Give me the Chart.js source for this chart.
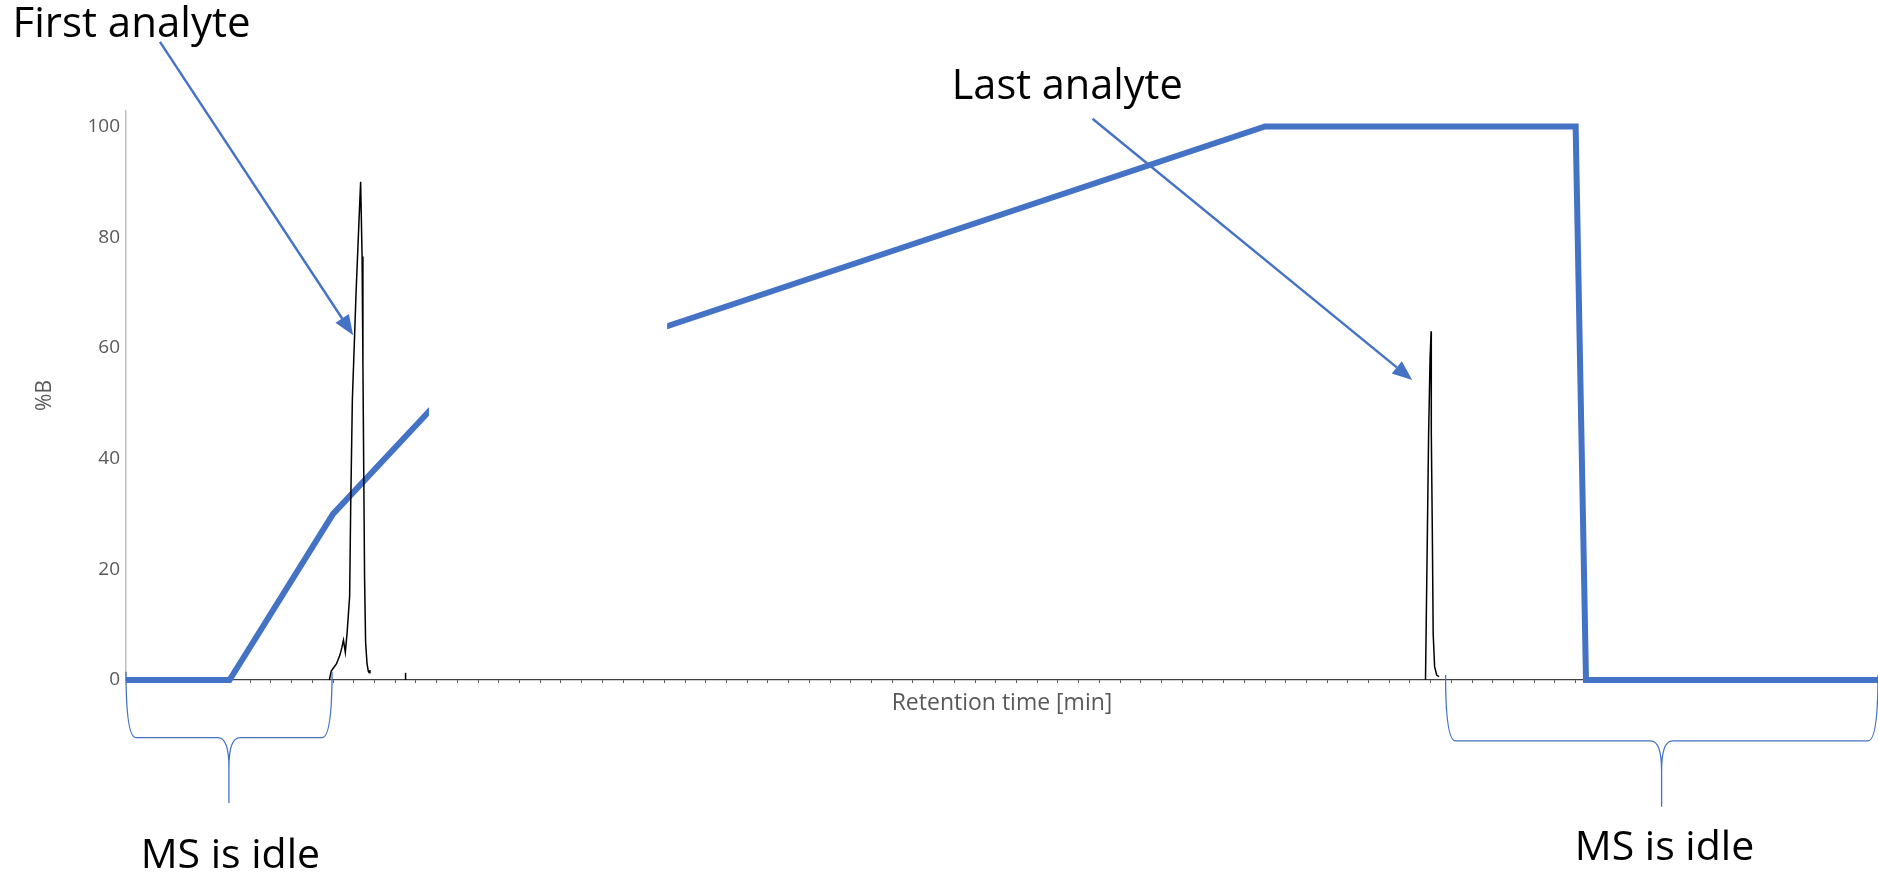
<!DOCTYPE html>
<html>
<head>
<meta charset="utf-8">
<script src="https://cdn.jsdelivr.net/npm/chart.js@4.4.1/dist/chart.umd.min.js"></script>
<style>
  body { margin: 0; background: #fff; }
  #wrap { width: 1878px; height: 873px; position: relative; }
</style>
</head>
<body>
<div id="wrap"><canvas id="chart"></canvas></div>
<script>
// LC gradient program, %B vs. time in minutes
var gradientTime = [0, 5, 10, 15, 55, 70, 70.5, 84.6];
var gradientB = [0, 0, 30, 50, 100, 100, 0, 0];

// detector trace around the first eluting compound
var peak1Time = [9.82, 9.91, 10.16, 10.33, 10.42, 10.5, 10.59, 10.68, 10.8, 10.85, 10.93, 11.11, 11.25, 11.33, 11.4, 11.44, 11.48, 11.52, 11.57, 11.64, 11.7, 11.75, 11.78];
var peak1Signal = [0, 1.6, 2.9, 4.5, 5.8, 7.2, 5.0, 8.7, 15.2, 31.3, 50.6, 70, 82.9, 90, 76.5, 57.1, 37.7, 18.4, 6.8, 2.9, 1.6, 1.3, 1.8];

// little blip right after it
var blipTime = [13.5, 13.5];
var blipSignal = [0, 1.3];

// last eluting compound
var peak2Time = [62.75, 62.84, 62.9, 62.97, 63.02, 63.03, 63.08, 63.12, 63.19, 63.29, 63.4];
var peak2Signal = [0, 26.5, 44.5, 58, 63, 44.6, 26.5, 8.4, 2.4, 0.9, 0.6];

var yTicks = [0, 20, 40, 60, 80, 100];

// callouts drawn on top of the plot (data units)
var arrows = [
  { from: [1.64, 115.3], to: [10.97, 62.3] },
  { from: [46.67, 101.4], to: [62.11, 54.2] }
];
var braces = [
  { x0: 0, x1: 9.95, tip: 4.97, top: 1.5, mid: -10.4, end: -22.2 },
  { x0: 63.72, x1: 84.6, tip: 74.15, top: 0.9, mid: -11.0, end: -22.9 }
];
var notes = [
  { text: 'First analyte', x: -5.48, y: 116.2, align: 'left', size: 42 },
  { text: 'Last analyte', x: 39.87, y: 104.95, align: 'left', size: 41.5 },
  { text: 'MS is idle', x: 5.04, y: -34.0, align: 'center', size: 41 },
  { text: 'MS is idle', x: 74.29, y: -32.5, align: 'center', size: 41 }
];
// part of the gradient line that is blanked out
var hidden = { from: 14.63, to: 26.13, low: 44, high: 68 };

var BLUE = '#4472C4';

function pairs(xs, ys) {
  var out = [];
  for (var i = 0; i < xs.length; i++) out.push({ x: xs[i], y: ys[i] });
  return out;
}

function trace(xs, ys) {
  return {
    data: pairs(xs, ys),
    borderColor: '#000',
    borderWidth: 1.5,
    pointRadius: 0,
    tension: 0,
    clip: false
  };
}

function drawArrow(ctx, x1, y1, x2, y2) {
  var ang = Math.atan2(y2 - y1, x2 - x1), len = 20, half = 8;
  var bx = x2 - len * Math.cos(ang), by = y2 - len * Math.sin(ang);
  ctx.beginPath();
  ctx.moveTo(x1, y1);
  ctx.lineTo(bx, by);
  ctx.stroke();
  ctx.beginPath();
  ctx.moveTo(x2, y2);
  ctx.lineTo(bx + half * Math.sin(ang), by - half * Math.cos(ang));
  ctx.lineTo(bx - half * Math.sin(ang), by + half * Math.cos(ang));
  ctx.closePath();
  ctx.fill();
}

function drawBrace(ctx, xs, ys, b) {
  var L = xs.getPixelForValue(b.x0), R = xs.getPixelForValue(b.x1), T = xs.getPixelForValue(b.tip);
  var yTop = ys.getPixelForValue(b.top), yMid = ys.getPixelForValue(b.mid), yEnd = ys.getPixelForValue(b.end);
  var r = 10, r2 = 11, h2 = 30;
  ctx.beginPath();
  ctx.moveTo(L, yTop);
  ctx.quadraticCurveTo(L, yMid, L + r, yMid);
  ctx.lineTo(T - r2, yMid);
  ctx.quadraticCurveTo(T, yMid, T, yMid + h2);
  ctx.lineTo(T, yEnd);
  ctx.moveTo(R, yTop);
  ctx.quadraticCurveTo(R, yMid, R - r, yMid);
  ctx.lineTo(T + r2, yMid);
  ctx.quadraticCurveTo(T, yMid, T, yMid + h2);
  ctx.stroke();
}

var callouts = {
  id: 'callouts',
  afterDraw: function(chart) {
    var ctx = chart.ctx, xs = chart.scales.x, ys = chart.scales.y;
    ctx.save();

    // white box over the middle of the ramp
    var hx = xs.getPixelForValue(hidden.from), hx2 = xs.getPixelForValue(hidden.to);
    var hy = ys.getPixelForValue(hidden.high), hy2 = ys.getPixelForValue(hidden.low);
    ctx.fillStyle = '#fff';
    ctx.fillRect(hx, hy, hx2 - hx, hy2 - hy);

    ctx.strokeStyle = BLUE;
    ctx.fillStyle = BLUE;
    ctx.lineWidth = 2.4;
    arrows.forEach(function(a) {
      drawArrow(ctx, xs.getPixelForValue(a.from[0]), ys.getPixelForValue(a.from[1]),
        xs.getPixelForValue(a.to[0]), ys.getPixelForValue(a.to[1]));
    });

    ctx.lineWidth = 1.3;
    braces.forEach(function(b) { drawBrace(ctx, xs, ys, b); });

    ctx.fillStyle = '#000';
    ctx.textBaseline = 'alphabetic';
    notes.forEach(function(n) {
      ctx.font = n.size + 'px "Open Sans"';
      ctx.textAlign = n.align;
      ctx.fillText(n.text, xs.getPixelForValue(n.x), ys.getPixelForValue(n.y));
    });
    ctx.restore();
  }
};

Chart.defaults.font.family = '"Open Sans", sans-serif';

new Chart(document.getElementById('chart'), {
  type: 'line',
  data: {
    datasets: [
      trace(peak1Time, peak1Signal),
      trace(blipTime, blipSignal),
      trace(peak2Time, peak2Signal),
      {
        data: pairs(gradientTime, gradientB),
        borderColor: BLUE,
        borderWidth: 6,
        pointRadius: 0,
        tension: 0,
        clip: false
      }
    ]
  },
  options: {
    responsive: true,
    maintainAspectRatio: false,
    animation: false,
    layout: { padding: { top: 111, right: 0, bottom: 153, left: 0 } },
    plugins: { legend: { display: false }, tooltip: { enabled: false } },
    scales: {
      x: {
        type: 'linear',
        min: 0,
        max: 84.6,
        ticks: { display: false, stepSize: 1, maxTicksLimit: 200, includeBounds: false },
        grid: { drawOnChartArea: false, drawTicks: true, tickLength: 3, color: '#595959' },
        border: { color: '#404040', width: 1.2 },
        afterFit: function(s) { s.height = 40; },
        title: {
          display: true,
          text: 'Retention time [min]',
          color: '#595959',
          font: { size: 23 },
          padding: { top: 4, bottom: 3 }
        }
      },
      y: {
        min: 0,
        max: 102.8,
        afterBuildTicks: function(s) { s.ticks = yTicks.map(function(v) { return { value: v }; }); },
        afterFit: function(s) { s.width = 126; },
        grid: { drawOnChartArea: false, drawTicks: false },
        border: { color: '#BFBFBF', width: 1.5 },
        ticks: { color: '#595959', font: { size: 19 }, padding: 6 },
        title: {
          display: true,
          text: '%B',
          color: '#595959',
          font: { size: 21 },
          padding: { top: 32, bottom: 0 }
        }
      }
    }
  },
  plugins: [callouts]
});
</script>
</body>
</html>
